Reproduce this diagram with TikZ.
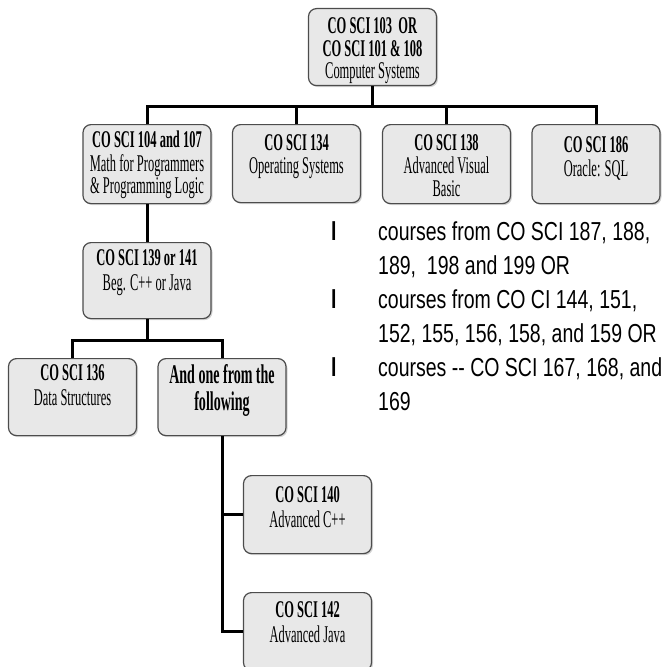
\documentclass[tikz,border=0pt]{standalone}
\usepackage{fontspec}
\usepackage{graphicx}
\setmainfont{Liberation Serif}
\newfontfamily\listfont{Liberation Sans}[FakeStretch=0.75]
\usetikzlibrary{shadows}
% narrow stacked lines inside a course box
\newcommand\course[1]{\scalebox{0.52}[1]{\begin{tabular}[t]{@{}c@{}}#1\end{tabular}}}
\tikzstyle{course}=[rectangle,rounded corners=8pt,draw=black!70,line width=1.2pt,fill=black!9,drop shadow={shadow xshift=1.5pt,shadow yshift=-1.5pt,opacity=0.35},minimum width=128pt,inner sep=0pt,anchor=north,font=\fontsize{24}{22}\selectfont]
\tikzstyle{edge} = [draw,line width=3pt]
\tikzstyle{electives} = [anchor=north west,inner sep=0pt,font=\listfont\fontsize{26}{34}\selectfont]

\begin{document}
\begin{tikzpicture}[x=1pt,y=-1pt]
    \clip (0,0) rectangle (671,666);
        \node[course,text height=25pt,text depth=52pt] (cs103) at (372.5,8) {\course{\textbf{CO SCI 103\ \ OR}\\ \textbf{CO SCI 101 \& 108}\\ Computer Systems}};
        \node[course,text height=23pt,text depth=56pt] (cs104) at (147,124) {\course{\textbf{CO SCI 104 and 107}\\ Math for Programmers\\ \& Programming Logic}};
        \node[course,text height=26pt,text depth=52pt,font=\fontsize{24}{23}\selectfont] (cs134) at (296.5,124) {\course{\textbf{CO SCI 134}\\ Operating Systems}};
        \node[course,text height=26pt,text depth=53pt] (cs138) at (446.5,124) {\course{\textbf{CO SCI 138}\\ Advanced Visual\\ Basic}};
        \node[course,text height=28pt,text depth=51pt,font=\fontsize{24}{23}\selectfont] (cs186) at (596,124) {\course{\textbf{CO SCI 186}\\ Oracle: SQL}};
        \node[course,text height=23pt,text depth=53pt,font=\fontsize{24}{25}\selectfont] (cs139) at (147,242) {\course{\textbf{CO SCI 139 or 141}\\ Beg. C++ or Java}};
        \node[course,text height=22pt,text depth=55pt,font=\fontsize{24}{25}\selectfont] (cs136) at (72.5,358) {\course{\textbf{CO SCI 136}\\ Data Structures}};
        \node[course,text height=25pt,text depth=52pt,font=\fontsize{27}{27}\selectfont\bfseries] (oneof) at (222,358) {\course{And one from the\\ following}};
        \node[course,text height=27pt,text depth=51pt,font=\fontsize{24}{25}\selectfont] (cs140) at (307.5,475) {\course{\textbf{CO SCI 140}\\ Advanced C++}};
        \node[course,text height=25pt,text depth=53pt,font=\fontsize{24}{25}\selectfont] (cs142) at (307.5,592) {\course{\textbf{CO SCI 142}\\ Advanced Java}};
        \node[electives] (list) at (331,216) {\begin{tabular}{@{}p{47pt}@{}l@{}}
            \textbf{l} & courses from CO SCI 187, 188,\\
              & 189,~ 198 and 199 OR\\
            \textbf{l} & courses from CO CI 144, 151,\\
              & 152, 155, 156, 158, and 159 OR\\
            \textbf{l} & courses -{}- CO SCI 167, 168, and\\
              & 169
        \end{tabular}};
        \path[edge] (cs103.south) -- ++(0,20) coordinate (bus1);
        \path[edge] (cs104.north) |- (bus1) -| (cs186.north);
        \path[edge] (cs134.north) -- (cs134.north |- bus1);
        \path[edge] (cs138.north) -- (cs138.north |- bus1);
        \path[edge] (cs104.south) -- (cs139.north);
        \path[edge] (cs139.south) -- ++(0,21) coordinate (bus2);
        \path[edge] (cs136.north) |- (bus2) -| (oneof.north);
        \path[edge] (oneof.south) |- (cs140.west);
        \path[edge] (oneof.south) |- (cs142.west);
\end{tikzpicture}
\end{document}
